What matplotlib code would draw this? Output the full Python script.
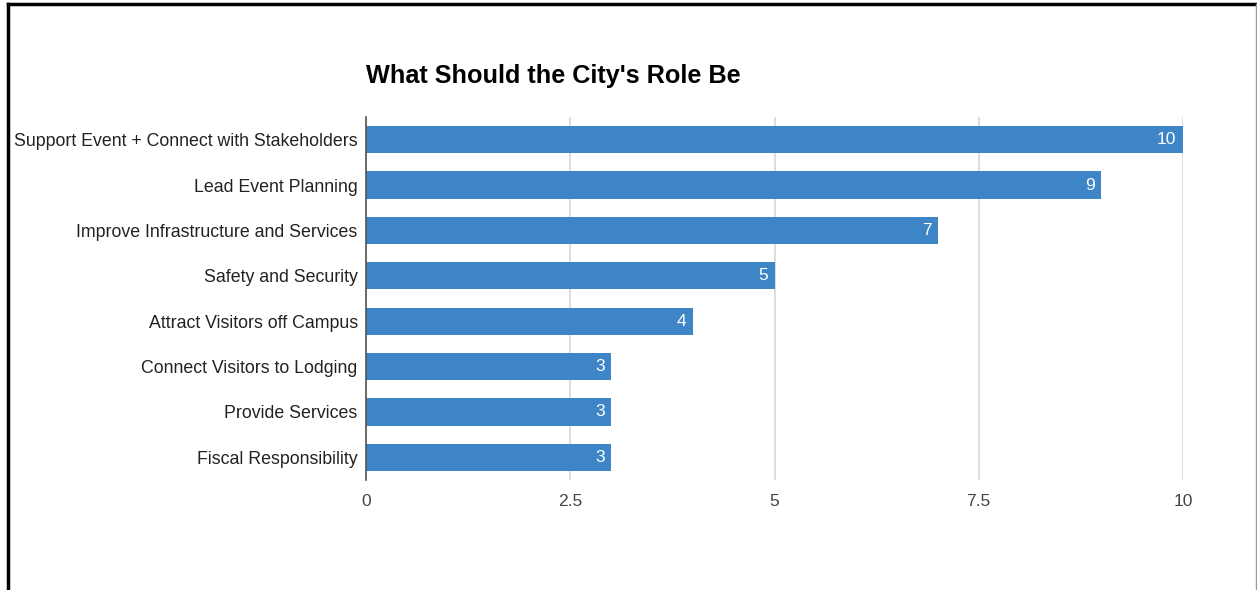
import matplotlib.pyplot as plt
from matplotlib.lines import Line2D

roles = ['Support Event + Connect with Stakeholders', 'Lead Event Planning',
         'Improve Infrastructure and Services', 'Safety and Security',
         'Attract Visitors off Campus', 'Connect Visitors to Lodging',
         'Provide Services', 'Fiscal Responsibility']
counts = [10, 9, 7, 5, 4, 3, 3, 3]
xticks = [0, 2.5, 5, 7.5, 10]
xtick_labels = ['0', '2.5', '5', '7.5', '10']

plt.rcParams['font.family'] = ['Liberation Sans', 'DejaVu Sans']

W, H = 1257, 590
fig = plt.figure(figsize=(W / 100, H / 100), dpi=100)
ax = fig.add_axes([366 / W, 1 - 480 / H, (1183 - 366) / W, (480 - 117) / H])

ypos = range(len(roles))
bars = ax.barh(ypos, counts, height=0.6, color='#3d85c6', zorder=3)
for y, v in zip(ypos, counts):
    ax.text(v - 0.08, y, str(v), color='white', fontsize=12.5,
            ha='right', va='center', zorder=4)

ax.set_ylim(len(roles) - 0.5, -0.5)
ax.set_xlim(0, 10)
ax.set_yticks(list(ypos))
ax.set_yticklabels(roles, fontsize=12.8, color='#222222')
ax.set_xticks(xticks)
ax.set_xticklabels(xtick_labels, fontsize=12.5, color='#444444')
ax.tick_params(axis='both', length=0)
ax.tick_params(axis='y', pad=6)
ax.tick_params(axis='x', pad=10)
ax.grid(axis='x', color='#dddddd', linewidth=1.5, zorder=0)
for s in ['top', 'right', 'bottom']:
    ax.spines[s].set_visible(False)
ax.spines['left'].set_color('#555555')
ax.spines['left'].set_linewidth(1.2)
ax.spines['left'].set_zorder(5)

fig.text(366 / W, 1 - 76 / H, "What Should the City's Role Be",
         fontsize=18.2, fontweight='bold', ha='left', va='center')

# frame around the screenshot
fig.add_artist(Line2D([8 / W, 8 / W], [0, 1 - 4 / H], color='black', linewidth=2.5,
                      transform=fig.transFigure))
fig.add_artist(Line2D([8 / W, 1], [1 - 4 / H, 1 - 4 / H], color='black', linewidth=2.5,
                      transform=fig.transFigure))
fig.add_artist(Line2D([1255.5 / W, 1255.5 / W], [0, 1 - 4 / H], color='#999999',
                      linewidth=1, transform=fig.transFigure))

fig.savefig('out.png', dpi=100)
